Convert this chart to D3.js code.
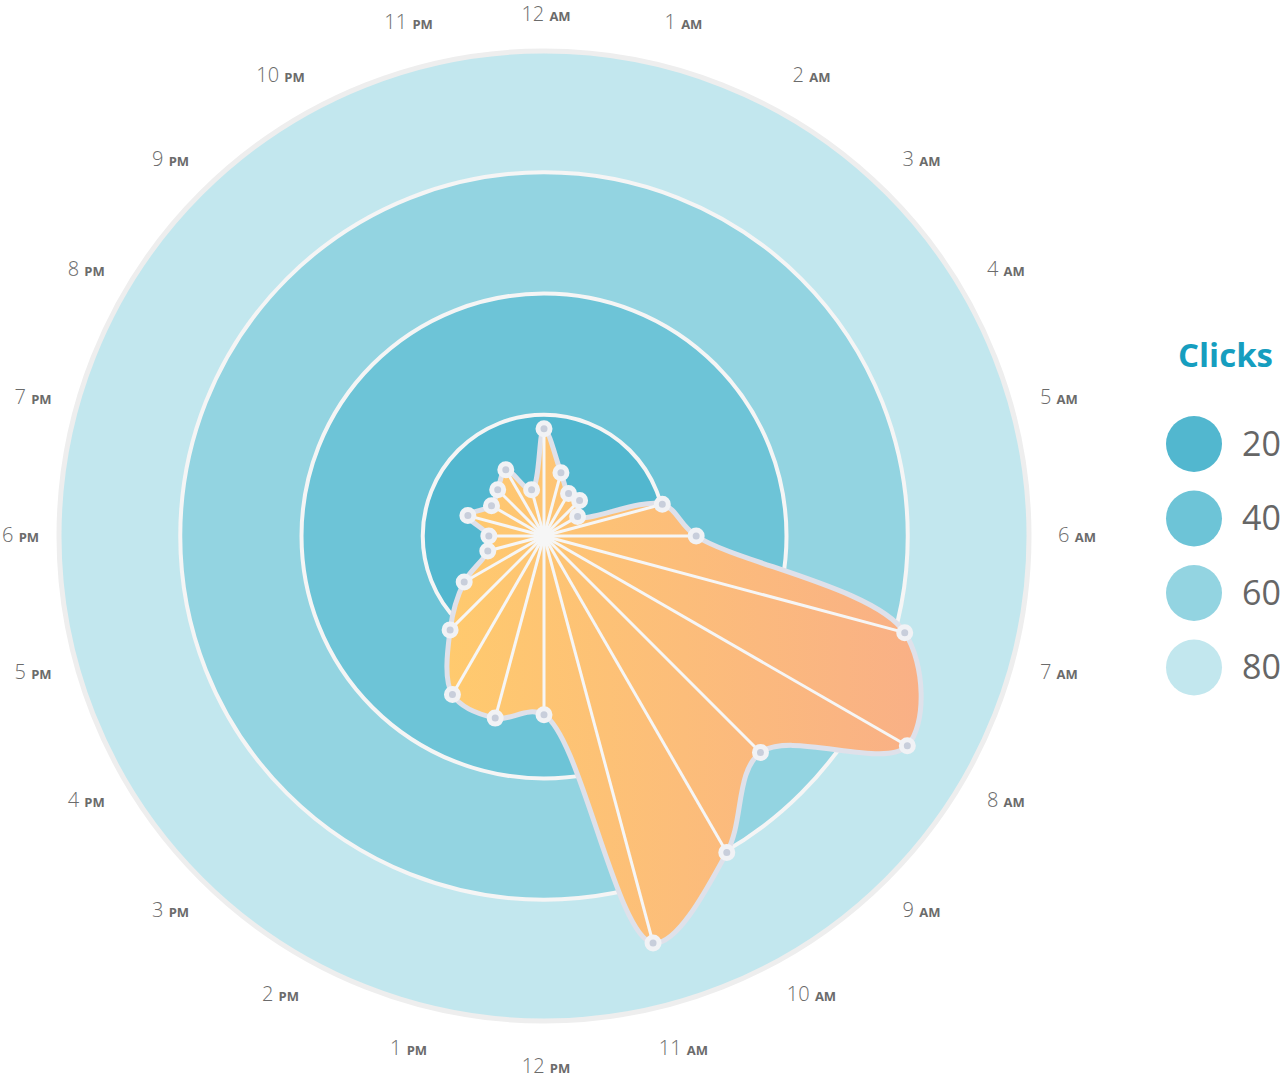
<!DOCTYPE html>
<html>
<head>
<meta charset="utf-8">
<script src="https://cdn.jsdelivr.net/npm/d3@7"></script>
<style>
  body { margin: 0; background: #fff; }
  text { font-family: "Open Sans", sans-serif; }
</style>
</head>
<body>
<div id="chart"></div>
<script>
(function () {

  /***** Data *****/
  var hours = ["12", "1", "2", "3", "4", "5", "6", "7", "8", "9", "10", "11",
               "12", "1", "2", "3", "4", "5", "6", "7", "8", "9", "10", "11"]
  var periods = ["AM", "AM", "AM", "AM", "AM", "AM", "AM", "AM", "AM", "AM", "AM", "AM",
                 "PM", "PM", "PM", "PM", "PM", "PM", "PM", "PM", "PM", "PM", "PM", "PM"]
  var clicks = [17.7, 10.8, 8.1, 8.3, 6.4, 20.2, 25.1, 61.6, 69.2, 50.5, 60.3, 69.5,
                29.5, 31.1, 30.2, 21.9, 15.2, 9.6, 9.1, 13.0, 10.0, 10.8, 12.6, 7.9]
  var levels = [20, 40, 60, 80]
  var levelColors = ["#52b7cf", "#6dc4d7", "#93d4e1", "#c2e7ee"]

  /***** Configuration *****/
  var width = 1283
  var height = 1078
  var cx = 544
  var cy = 536
  var outerRadius = 485
  var labelRadius = 531

  var svg = d3.select("#chart")
    .append("svg")
    .attr("width", width)
    .attr("height", height)

  var defs = svg.append("defs")
  var grad = defs.append("linearGradient")
    .attr("id", "areaGrad")
    .attr("x1", "0%").attr("x2", "100%")
    .attr("y1", "0%").attr("y2", "0%")
  grad.append("stop").attr("offset", "0%").attr("stop-color", "#ffca6e")
  grad.append("stop").attr("offset", "100%").attr("stop-color", "#f9b086")

  var g = svg.append("g")
    .attr("transform", "translate(" + cx + "," + cy + ")")

  var r = d3.scaleLinear().domain([0, 80]).range([0, outerRadius])
  var angle = d3.scaleLinear().domain([0, 24]).range([0, 2 * Math.PI])

  // rings, biggest first
  g.selectAll(".ring")
    .data(levels.slice().reverse())
    .enter().append("circle")
    .attr("class", "ring")
    .attr("r", d => r(d))
    .attr("fill", d => levelColors[levels.indexOf(d)])
    .attr("stroke", (d, i) => i === 0 ? "#eeeeee" : "#f5f5f5")
    .attr("stroke-width", (d, i) => i === 0 ? 5 : 4)

  // area
  var radial = d3.lineRadial()
    .angle((d, i) => angle(i))
    .radius(d => r(d))
    .curve(d3.curveCatmullRomClosed.alpha(0.5))

  g.append("path")
    .datum(clicks)
    .attr("d", radial)
    .attr("fill", "url(#areaGrad)")
    .attr("stroke", "#dfe1ea")
    .attr("stroke-width", 5)
    .attr("stroke-linejoin", "round")

  var px = (d, i) => r(d) * Math.sin(angle(i))
  var py = (d, i) => -r(d) * Math.cos(angle(i))

  // spokes
  g.selectAll(".spoke")
    .data(clicks)
    .enter().append("line")
    .attr("class", "spoke")
    .attr("x1", 0).attr("y1", 0)
    .attr("x2", px).attr("y2", py)
    .attr("stroke", "#f6f6f6")
    .attr("stroke-width", 3)

  // points
  g.selectAll(".dot")
    .data(clicks)
    .enter().append("circle")
    .attr("class", "dot")
    .attr("cx", px).attr("cy", py)
    .attr("r", 6)
    .attr("fill", "#c8cedb")
    .attr("stroke", "#f1f2f5")
    .attr("stroke-width", 5)

  // hour labels
  var labels = g.selectAll(".hour")
    .data(hours)
    .enter().append("text")
    .attr("class", "hour")
    .attr("x", (d, i) => 2 + labelRadius * Math.sin(angle(i)))
    .attr("y", (d, i) => -labelRadius * Math.cos(angle(i)))
    .attr("dy", "0.35em")
    .attr("text-anchor", "middle")
    .attr("fill", "#6b6b6b")
  labels.append("tspan")
    .attr("font-size", 20)
    .attr("font-weight", 300)
    .text(d => d + " ")
  labels.append("tspan")
    .attr("font-size", 13)
    .attr("font-weight", 700)
    .text((d, i) => periods[i])

  // keep labels inside the picture
  labels.each(function () {
    var b = this.getBBox()
    var x = +this.getAttribute("x")
    var y = +this.getAttribute("y")
    if (cx + b.x < 2) this.setAttribute("x", x + (2 - cx - b.x))
    if (cy + b.y < 0) this.setAttribute("y", y - (cy + b.y))
  })

  // legend
  var legend = svg.append("g")
    .attr("transform", "translate(1178,0)")

  legend.append("text")
    .attr("x", 0).attr("y", 367)
    .attr("font-size", 33)
    .attr("font-weight", 700)
    .attr("fill", "#169ebf")
    .text("Clicks")

  var items = legend.selectAll(".item")
    .data(levels)
    .enter().append("g")
    .attr("class", "item")
    .attr("transform", (d, i) => "translate(0," + (444 + i * 74.5) + ")")
  items.append("circle")
    .attr("cx", 16).attr("cy", 0)
    .attr("r", 28)
    .attr("fill", (d, i) => levelColors[i])
  items.append("text")
    .attr("x", 64).attr("y", 0)
    .attr("dy", "0.35em")
    .attr("font-size", 34)
    .attr("fill", "#666")
    .text(d => d)

})()
</script>
</body>
</html>
